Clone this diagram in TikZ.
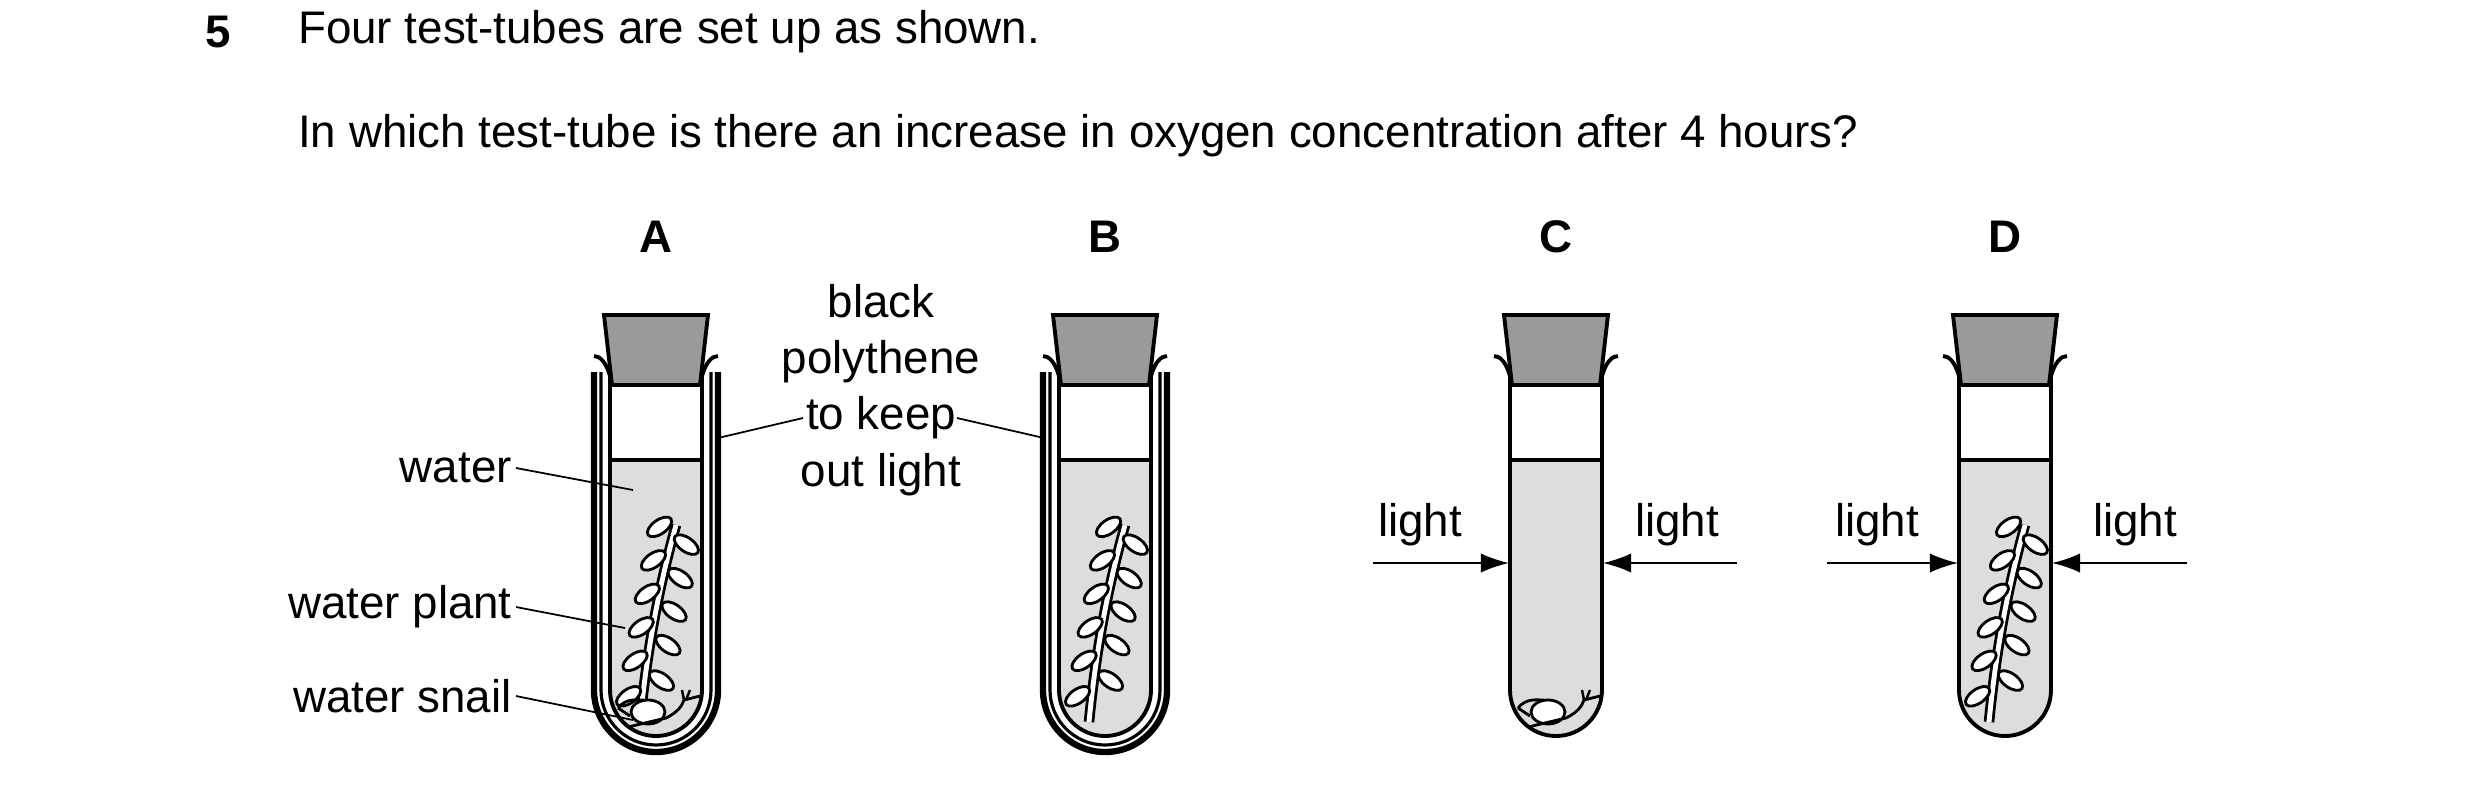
\documentclass[tikz,border=0pt]{standalone}
\usepackage{fontspec}
\setmainfont{Liberation Sans}
\tikzset{
  txt/.style={font=\fontsize{13}{15}\selectfont, inner sep=1pt},
  wall/.style={line width=1.1pt},
  leader/.style={line width=0.5pt},
  lightarrow/.style={line width=0.6pt, -{Latex[length=8pt,width=5.5pt]}},
}
\usetikzlibrary{arrows.meta}
\definecolor{corkgrey}{HTML}{9A9A9A}
\definecolor{watergrey}{HTML}{DCDDDE}
% tube at centre #1
\newcommand{\tubebody}[1]{%
  \fill[watergrey] (#1-46,460) -- (#1-46,690) arc[start angle=180,end angle=0,radius=46] -- (#1+46,460) -- cycle;
  \draw[wall] (#1-46,372) -- (#1-46,690) arc[start angle=180,end angle=0,radius=46] -- (#1+46,372);
  \draw[wall,rounded corners=3] (#1-46,460) -- (#1+46,460);
  \draw[wall] (#1-46,376) .. controls (#1-50,362) and (#1-56,356) .. (#1-62,356);
  \draw[wall] (#1+46,376) .. controls (#1+50,362) and (#1+56,356) .. (#1+62,356);
  \filldraw[wall,fill=corkgrey] (#1-52,315) -- (#1+52,315) -- (#1+44,385) -- (#1-44,385) -- cycle;}
\newcommand{\plant}[1]{%
  \draw[line width=3pt] (#1-16,722) .. controls (#1-8,640) and (#1+5,580) .. (#1+20,525);
  \draw[line width=1.4pt,white] (#1-16,722) .. controls (#1-8,640) and (#1+5,580) .. (#1+20,525);
  \foreach \t/\s in {0.1/-1,0.18/1,0.28/-1,0.36/1,0.45/-1,0.53/1,0.62/-1,0.7/1,0.79/-1,0.87/1,0.96/-1}{
    \pgfmathsetmacro{\lx}{#1-16+36*\t}
    \pgfmathsetmacro{\ly}{722-197*\t}
    \filldraw[line width=0.8pt,fill=white] (\lx+\s*15,\ly-6) ellipse[x radius=14,y radius=7,rotate=-\s*35];
  }}
\newcommand{\snail}[1]{%
  \filldraw[line width=0.8pt,fill=white] (#1-8,712) ellipse[x radius=17,y radius=12];
  \draw[line width=0.8pt] (#1-38,708) .. controls (#1-30,698) and (#1-20,700) .. (#1-12,700);
  \draw[line width=0.8pt] (#1-38,708) -- (#1-26,716);
  \draw[line width=0.8pt] (#1-28,727) -- (#1+10,718) .. controls (#1+22,712) and (#1+26,706) .. (#1+28,700) -- (#1+44,696);
  \draw[line width=0.7pt] (#1+28,700) -- (#1+26,690) (#1+30,700) -- (#1+34,690);}
\newcommand{\cover}[1]{%
  \draw[line width=1.8pt] (#1-62,372) -- (#1-62,690) arc[start angle=180,end angle=0,radius=62] -- (#1+62,372);
  \draw[line width=0.9pt] (#1-55,372) -- (#1-55,690) arc[start angle=180,end angle=0,radius=55] -- (#1+55,372);}
\begin{document}
\begin{tikzpicture}[x=0.01cm,y=-0.01cm]
\useasboundingbox (0,0) rectangle (2480,790);
\node[txt,font=\fontsize{13}{15}\selectfont\bfseries] (num) at (218,32) {5};
\node[txt,anchor=west] (q1) at (294,32) {Four test-tubes are set up as shown.};
\node[txt,anchor=west] (q2) at (294,136) {In which test-tube is there an increase in oxygen concentration after 4 hours?};
% labels of the tubes
\foreach \l/\x in {A/656,B/1105,C/1556,D/2005}
  \node[txt,font=\fontsize{13}{15}\selectfont\bfseries] (lab\l) at (\x,237) {\l};
% tube A
\cover{656}
\tubebody{656}
\plant{656}
\snail{656}
% tube B
\cover{1105}
\tubebody{1105}
\plant{1105}
% tube C
\tubebody{1556}
\snail{1556}
% tube D
\tubebody{2005}
\plant{2005}
% labels
\node[txt,anchor=east] (water) at (516,468) {water};
\node[txt,anchor=east] (wplant) at (516,607) {water plant};
\node[txt,anchor=east] (wsnail) at (516,696) {water snail};
\coordinate (wA) at (633,490);
\coordinate (pA) at (625,628);
\coordinate (sA) at (633,720);
\draw[leader] (water.east) -- (wA);
\draw[leader] (wplant.east) -- (pA);
\draw[leader] (wsnail.east) -- (sA);
\node[txt,align=center,font=\fontsize{13}{16}\selectfont] (poly) at (881,390) {black\\polythene\\to keep\\out light};
\coordinate (polyL) at (803,418);
\coordinate (polyR) at (957,418);
\coordinate (coverA) at (718,438);
\coordinate (coverB) at (1044,438);
\draw[leader] (polyL) -- (coverA);
\draw[leader] (polyR) -- (coverB);
% light
\node[txt] (lightC1) at (1420,525) {light};
\node[txt] (lightC2) at (1677,525) {light};
\node[txt] (lightD1) at (1877,525) {light};
\node[txt] (lightD2) at (2135,525) {light};
\coordinate (c1) at (1373,563); \coordinate (c1e) at (1509,563);
\coordinate (c2) at (1737,563); \coordinate (c2e) at (1603,563);
\coordinate (d1) at (1827,563); \coordinate (d1e) at (1958,563);
\coordinate (d2) at (2187,563); \coordinate (d2e) at (2052,563);
\draw[lightarrow] (c1) -- (c1e);
\draw[lightarrow] (c2) -- (c2e);
\draw[lightarrow] (d1) -- (d1e);
\draw[lightarrow] (d2) -- (d2e);
\end{tikzpicture}
\end{document}
